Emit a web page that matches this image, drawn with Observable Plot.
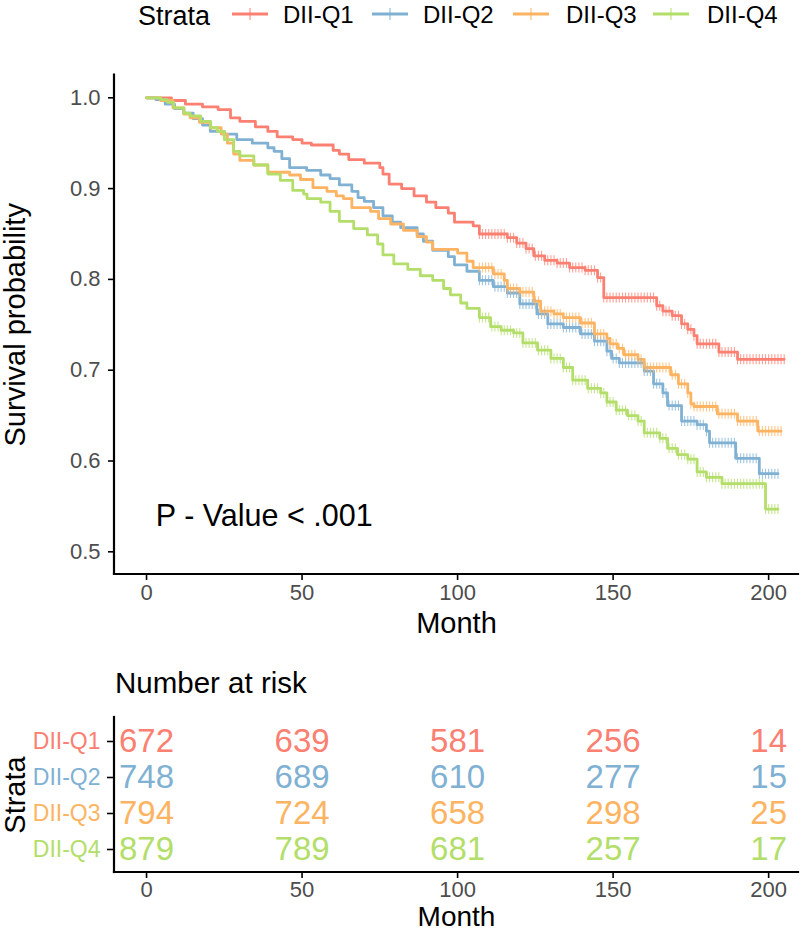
<!DOCTYPE html>
<html><head><meta charset="utf-8">
<script src="https://cdn.jsdelivr.net/npm/d3@7"></script>
<script src="https://cdn.jsdelivr.net/npm/@observablehq/plot@0.6"></script>
<style>
body{margin:0;background:#fff;font-family:"Liberation Sans",Arial,Helvetica,sans-serif;}
#wrap{position:relative;width:800px;height:935px;overflow:hidden;background:#fff;}
.abs{position:absolute;white-space:nowrap;}
svg text{font-family:"Liberation Sans",Arial,Helvetica,sans-serif;}
g[aria-label="x-axis tick label"], g[aria-label="y-axis tick label"]{fill:#4d4d4d;}
</style></head><body><div id="wrap"></div>
<script>
// ---- data ----
const strata = ["DII-Q1","DII-Q2","DII-Q3","DII-Q4"];
const colors = ["#FB8072","#80B1D3","#FDB462","#B3DE69"];

const q1Month = [0,8,12.5,18,23,27,30,35,39,42,47,50,53,60,62,65,70,75,76,78,82,86,90,93,97,99,105,107,116,119,122,124.5,128,132,136,141,145,147,164,166,169,172,174,176,177,184,190];
const q1Surv  = [1,.997,.993,.990,.987,.978,.974,.968,.963,.957,.954,.950,.948,.942,.938,.932,.928,.923,.916,.905,.900,.892,.885,.879,.873,.863,.859,.850,.846,.840,.834,.826,.821,.818,.813,.810,.802,.780,.771,.765,.760,.751,.745,.738,.729,.720,.712];

const q2Month = [0,3,6,9,12,15,18,20.5,25,29,34,39,41,43.5,46,51.5,56,59,62,66,68,70,73,76,79,81.7,87,89,92,97,99,103,107,111.5,116,120,125.5,129,134,139.5,144,148,149.5,152,160,163,166,167.5,172,177,180,181,189.4,197];
const q2Surv  = [1,.998,.993,.988,.983,.977,.970,.963,.960,.954,.950,.945,.941,.933,.923,.920,.915,.911,.904,.897,.890,.886,.879,.870,.863,.857,.850,.842,.832,.825,.816,.809,.799,.792,.785,.773,.762,.751,.747,.740,.732,.721,.713,.708,.699,.685,.675,.661,.644,.640,.633,.620,.603,.586];

const q3Month = [0,4.5,8.5,12,14,17,20.5,24,26,28,30,34.5,39,46,49.5,53.5,58,61,63.3,66,72,74.6,78.5,82.6,87,90,92,100,103,105,111.5,115,116,120,124.5,126.7,131,134,139.5,144,148,149,151.4,153.4,158,160,168.5,171,174,175,176,183.5,190,196.5];
const q3Surv  = [1,.997,.989,.982,.978,.973,.967,.960,.950,.938,.931,.926,.918,.915,.910,.901,.897,.892,.889,.879,.875,.867,.861,.854,.847,.841,.833,.829,.820,.813,.806,.799,.790,.786,.776,.765,.762,.758,.752,.740,.735,.729,.724,.717,.712,.703,.695,.685,.675,.663,.660,.652,.644,.633];

const q4Month = [0,4.5,6.7,8.7,12,14,17.4,20.6,22.8,25,28,30,34.5,39,43,47,50.5,51.6,56,59,62,66.6,71,74.3,76,79.5,84,88,92,95.5,97.7,101,103,107,110.6,114,118,121,125.7,130,134,137,141.8,146,148,151,154.6,158,160,165,167.5,170.7,174,177,180,185,199];
const q4Surv  = [1,.998,.995,.989,.983,.980,.974,.967,.963,.954,.941,.936,.926,.916,.909,.898,.894,.889,.885,.875,.864,.856,.849,.839,.827,.817,.811,.804,.799,.790,.783,.774,.768,.758,.748,.744,.741,.730,.722,.713,.703,.689,.680,.675,.665,.656,.650,.644,.631,.625,.614,.607,.602,.588,.582,.575,.547];

const curveEnd = [205,203,204,203];
const censorMonths = [107,108,109,110,111,112,113,114,115,116,117,118,119,120,121,122,123,124,125,126,127,128,129,130,131,132,133,134,135,136,137,138,139,140,141,142,143,144,145,146,147,148,149,150,151,152,153,154,155,156,157,158,159,160,161,162,163,164,165,166,167,168,169,170,171,172,173,174,175,176,177,178,179,180,181,182,183,184,185,186,187,188,189,190,191,192,193,194,195,196,197,198,199,200,201,202,203,204,205];

const riskMonths = [0,50,100,150,200];
const riskQ1 = [672,639,581,256,14];
const riskQ2 = [748,689,610,277,15];
const riskQ3 = [794,724,658,298,25];
const riskQ4 = [879,789,681,257,17];

const xTicks = [0,50,100,150,200];
const yTicks = [0.5,0.6,0.7,0.8,0.9,1.0];
const xDomain = [-10.3, 209.6];
const yDomain = [0.475, 1.025];
const pAnnotation = [{month: 3, surv: 0.539, label: "P - Value < .001"}];

// ---- build tables ----
const months = [q1Month,q2Month,q3Month,q4Month];
const survs = [q1Surv,q2Surv,q3Surv,q4Surv];
const risks = [riskQ1,riskQ2,riskQ3,riskQ4];

const curveRows = [];
const censorRows = [];
strata.forEach((s,i)=>{
  months[i].forEach((m,j)=>curveRows.push({strata:s, month:m, surv:survs[i][j]}));
  curveRows.push({strata:s, month:curveEnd[i], surv:survs[i][survs[i].length-1]});
  censorMonths.filter(m=>m<=curveEnd[i]).forEach(m=>{
    const k = d3.bisectRight(months[i], m) - 1;
    censorRows.push({strata:s, month:m, surv:survs[i][k]});
  });
});
const riskRows = [];
strata.forEach((s,i)=>riskMonths.forEach((m,j)=>riskRows.push({strata:s, month:m, n:risks[i][j]})));

const tickSymbol = {draw(ctx, size){ const h = Math.sqrt(size/Math.PI); ctx.moveTo(0,-h); ctx.lineTo(0,h); }};

function axisLines(index, scales, values, dims){
  const {width,height,marginLeft,marginRight,marginTop,marginBottom} = dims;
  const g = d3.create("svg:g").attr("stroke","black").attr("stroke-width",2.2).attr("stroke-linecap","square");
  g.append("line").attr("x1",marginLeft).attr("x2",marginLeft).attr("y1",marginTop).attr("y2",height-marginBottom);
  g.append("line").attr("x1",marginLeft).attr("x2",width-marginRight).attr("y1",height-marginBottom).attr("y2",height-marginBottom);
  return g.node();
}

const FONT = "'Liberation Sans',Arial,Helvetica,sans-serif";
const wrap = document.getElementById("wrap");

// ---- legend ----
const legend = document.createElement("div");
legend.className = "abs"; legend.style.left="0px"; legend.style.top="0px"; legend.style.width="800px"; legend.style.height="34px";
const title = document.createElement("div");
title.className="abs"; title.textContent="Strata";
Object.assign(title.style,{left:"138px",top:"1px",fontSize:"27px",lineHeight:"30px",color:"#000"});
legend.appendChild(title);
const keyLeft = [232,372,513,653];
const labLeft = [283,423,566,707];
strata.forEach((s,i)=>{
  const k = d3.create("svg").attr("width",36).attr("height",20)
    .style("position","absolute").style("left",keyLeft[i]+"px").style("top","4px");
  k.append("line").attr("x1",0).attr("x2",36).attr("y1",10).attr("y2",10).attr("stroke",colors[i]).attr("stroke-width",2.8);
  k.append("line").attr("x1",18).attr("x2",18).attr("y1",4).attr("y2",16).attr("stroke",colors[i]).attr("stroke-width",1);
  legend.appendChild(k.node());
  const l = document.createElement("div");
  l.className="abs"; l.textContent=s;
  Object.assign(l.style,{left:labLeft[i]+"px",top:"2px",fontSize:"24px",lineHeight:"26px",color:"#000"});
  legend.appendChild(l);
});
wrap.appendChild(legend);

// ---- main KM plot ----
const main = Plot.plot({
  width: 800, height: 620,
  marginLeft: 114, marginRight: 2, marginTop: 44.6, marginBottom: 76,
  x: {domain: xDomain},
  y: {domain: yDomain},
  color: {domain: strata, range: colors},
  style: {fontFamily: FONT, background: "white", color: "black"},
  marks: [
    Plot.line(curveRows, {x:"month", y:"surv", z:"strata", stroke:"strata", curve:"step-after", strokeWidth:2.8}),
    Plot.dot(censorRows, {x:"month", y:"surv", stroke:"strata", symbol: tickSymbol, r:5, strokeWidth:1.1, strokeOpacity:0.75}),
    Plot.text(pAnnotation, {x:"month", y:"surv", text:"label", textAnchor:"start", fontSize:30.5, fill:"black"}),
    Plot.axisX({ticks: xTicks, tickSize: 6, tickPadding: 4, fontSize: 22, label: null, strokeWidth: 1.6}),
    Plot.axisY({ticks: yTicks, tickFormat: d3.format(".1f"), tickSize: 6, tickPadding: 8, fontSize: 22, label: null, strokeWidth: 1.6}),
    axisLines,
    Plot.text(["Month"], {frameAnchor:"bottom", dy: 58, fontSize: 29, fill:"black", textAnchor:"middle"}),
    Plot.text(["Survival probability"], {frameAnchor:"left", dx: -99, rotate: -90, fontSize: 29, fill:"black", textAnchor:"middle"})
  ]
});
main.style.position="absolute"; main.style.left="0px"; main.style.top="30px";
wrap.appendChild(main);

// ---- risk table ----
const rtitle = document.createElement("div");
rtitle.className="abs"; rtitle.textContent="Number at risk";
Object.assign(rtitle.style,{left:"115px",top:"667px",fontSize:"29.5px",lineHeight:"32px",color:"#000"});
wrap.appendChild(rtitle);

const risk = Plot.plot({
  width: 800, height: 235,
  marginLeft: 114, marginRight: 2, marginTop: 17, marginBottom: 63,
  x: {domain: xDomain},
  y: {type: "point", domain: strata, padding: 0.6},
  color: {domain: strata, range: colors},
  style: {fontFamily: FONT, background: "white", color: "black"},
  marks: [
    Plot.text(riskRows, {x:"month", y:"strata", text:"n", fill:"strata", fontSize: 33}),
    Plot.axisX({ticks: xTicks, tickSize: 6, tickPadding: 3, fontSize: 22, label: null, strokeWidth: 1.6}),
    Plot.axisY({tickSize: 7, tickFormat: () => "", label: null, strokeWidth: 1.6}),
    Plot.text(strata, {y: d=>d, text: d=>d, frameAnchor:"left", dx:-14, textAnchor:"end", fill: d=>d, fontSize: 23}),
    axisLines,
    Plot.text(["Month"], {frameAnchor:"bottom", dy: 53, fontSize: 28, fill:"black", textAnchor:"middle"}),
    Plot.text(["Strata"], {frameAnchor:"left", dx: -99, rotate: -90, fontSize: 29, fill:"black", textAnchor:"middle"})
  ]
});
risk.style.position="absolute"; risk.style.left="0px"; risk.style.top="700px";
wrap.appendChild(risk);
</script></body></html>
